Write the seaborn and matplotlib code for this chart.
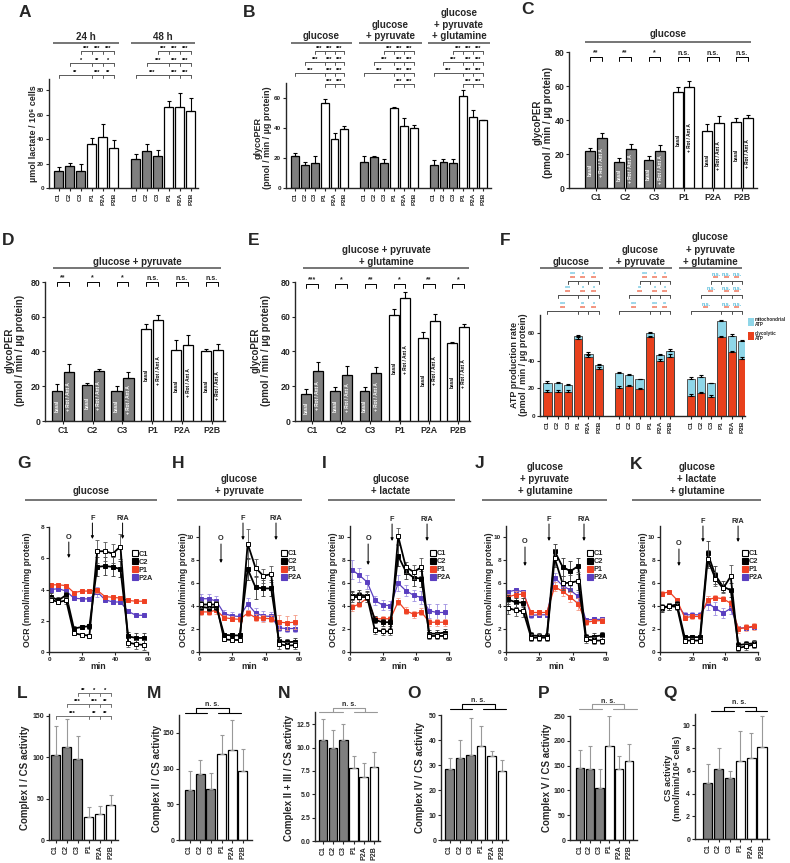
import matplotlib
matplotlib.use('Agg')
import matplotlib.pyplot as plt
import pandas as pd
import seaborn as sns
from matplotlib.transforms import Affine2D, blended_transform_factory
from matplotlib.lines import Line2D
from matplotlib.patches import Rectangle

# ---------------------------------------------------------------- data
cells = ['C1', 'C2', 'C3', 'P1', 'P2A', 'P2B']

# A  lactate
lactate_times = ['24 h', '48 h']
lactate_24h = [14.0, 17.8, 13.6, 36.0, 42.0, 33.0]
lactate_24h_sd = [3.5, 2.5, 5.8, 5.0, 10.5, 6.5]
lactate_48h = [23.5, 30.0, 26.5, 66.0, 66.5, 62.8]
lactate_48h_sd = [4.0, 5.7, 4.5, 4.7, 11.0, 10.5]
A_sig_24h = [['***', '***', '***'], ['*', '**', '*'], ['**', '***', '**']]
A_sig_48h = [['***', '***', '***'], ['***', '***', '***'], ['***', '***', '***']]

# B  glycoPER in three media
media = ['glucose', 'glucose\n+ pyruvate', 'glucose\n+ pyruvate\n+ glutamine']
per_glc = [21.5, 15.5, 16.5, 56.5, 32.5, 39.0]
per_glc_sd = [2.0, 2.0, 5.0, 3.0, 4.0, 2.5]
per_pyr = [17.5, 20.5, 16.5, 53.0, 41.0, 40.0]
per_pyr_sd = [4.0, 1.0, 3.0, 0.8, 5.5, 2.0]
per_gln = [15.5, 17.5, 16.5, 61.5, 47.5, 45.0]
per_gln_sd = [3.0, 2.0, 3.0, 3.5, 4.5, 0.5]
B_sig = [['***', '***', '***'], ['***', '***', '***'], ['***', '***', '***'], ['***', '***']]

# C, D, E  basal vs + Rot/Ant A
treatments = ['basal', '+ Rot / Ant A']
C_basal = [21.5, 15.5, 16.5, 56.5, 33.5, 39.0]
C_basal_sd = [2.0, 2.0, 2.2, 3.0, 4.0, 2.2]
C_rot = [29.5, 23.0, 22.0, 59.5, 38.5, 41.0]
C_rot_sd = [3.0, 2.8, 3.0, 3.3, 4.0, 2.2]
C_sig = ['**', '**', '*', 'n.s.', 'n.s.', 'n.s.']
D_basal = [17.5, 21.0, 17.0, 53.0, 41.0, 40.0]
D_basal_sd = [4.0, 1.0, 3.0, 3.0, 5.5, 1.5]
D_rot = [28.0, 29.0, 25.0, 58.0, 44.0, 41.0]
D_rot_sd = [4.8, 1.0, 3.3, 3.0, 5.5, 3.5]
D_sig = ['**', '*', '*', 'n.s.', 'n.s.', 'n.s.']
E_basal = [15.5, 17.5, 17.0, 61.0, 47.5, 45.0]
E_basal_sd = [3.0, 2.0, 2.5, 3.5, 4.0, 0.5]
E_rot = [29.0, 26.5, 27.5, 71.0, 57.5, 54.0]
E_rot_sd = [5.0, 5.0, 3.5, 3.5, 4.0, 2.0]
E_sig = ['***', '*', '**', '*', '**', '*']

# F  ATP production (glycolytic + mitochondrial)
atp_glyco_glc = [17.0, 17.5, 17.5, 56.0, 43.0, 34.0]
atp_mito_glc = [7.0, 6.5, 5.0, 2.0, 2.0, 2.5]
atp_glyco_pyr = [20.0, 21.5, 19.5, 57.0, 40.0, 43.0]
atp_mito_pyr = [11.0, 8.0, 7.0, 3.0, 4.0, 4.0]
atp_glyco_gln = [14.5, 16.5, 14.0, 57.0, 46.0, 41.0]
atp_mito_gln = [12.5, 12.0, 9.5, 11.5, 12.0, 13.0]
atp_glyco_sd = [1.5, 1.0, 1.0, 1.0, 1.0, 1.5]
atp_total_sd = [1.0, 0.8, 0.5, 0.8, 1.0, 1.2]
F_sig_mito_glc = [['***', '*', '*'], ['***', '*', '*'], ['***', '**', '*']]
F_sig_mito_pyr = [['***', '*', '*'], ['**', '*', '*'], ['***', '***', '**']]
F_sig_mito_gln = [['n.s.', 'n.s.', 'n.s.'], ['n.s.', 'n.s.', 'n.s.'], ['n.s.', 'n.s.', 'n.s.']]
F_sig_glyco = ['***', '***', '***']

# G-K  OCR time courses
ocr_lines = ['C1', 'C2', 'P1', 'P2A']
time_min = [1.0, 5.7, 10.4, 15.1, 19.8, 24.5, 29.2, 33.9, 38.6, 43.3, 48.0, 52.7, 57.4]
G_C1 = [3.35, 3.2, 3.3, 1.2, 1.1, 1.05, 6.45, 6.45, 6.3, 6.75, 0.6, 0.5, 0.45]
G_C2 = [3.55, 3.3, 3.65, 1.5, 1.6, 1.65, 5.45, 5.5, 5.45, 5.3, 1.0, 0.9, 0.9]
G_P1 = [4.3, 4.3, 4.25, 3.8, 3.9, 3.9, 3.95, 3.55, 3.5, 3.45, 3.3, 3.25, 3.25]
G_P2A = [4.0, 4.05, 3.9, 3.45, 3.4, 3.4, 3.85, 3.35, 3.2, 3.2, 2.6, 2.35, 2.35]
G_C1_sd = [0.15, 0.15, 0.2, 0.1, 0.1, 0.1, 0.75, 0.6, 0.6, 0.8, 0.3, 0.3, 0.35]
G_C2_sd = [0.2, 0.2, 0.2, 0.15, 0.15, 0.15, 0.6, 0.6, 0.6, 0.5, 0.3, 0.3, 0.3]
G_P1_sd = [0.1, 0.1, 0.1, 0.1, 0.1, 0.1, 0.15, 0.1, 0.1, 0.1, 0.1, 0.1, 0.1]
G_P2A_sd = [0.15, 0.15, 0.15, 0.15, 0.15, 0.15, 0.3, 0.15, 0.15, 0.15, 0.1, 0.1, 0.1]
H_C1 = [4.15, 4.15, 4.15, 1.1, 1.05, 1.05, 9.45, 7.35, 6.65, 6.8, 0.7, 0.55, 0.6]
H_C2 = [3.95, 3.85, 3.95, 1.5, 1.45, 1.45, 7.25, 5.65, 5.55, 5.55, 0.95, 0.85, 0.9]
H_P1 = [3.5, 3.5, 3.65, 3.0, 2.9, 2.85, 3.4, 3.0, 2.95, 2.9, 2.6, 2.55, 2.6]
H_P2A = [4.65, 4.65, 4.45, 3.35, 3.15, 3.1, 4.2, 3.4, 3.15, 3.1, 2.1, 2.05, 2.05]
H_C1_sd = [0.3, 0.3, 0.3, 0.15, 0.15, 0.15, 1.3, 0.8, 0.6, 0.7, 0.4, 0.3, 0.3]
H_C2_sd = [0.3, 0.3, 0.3, 0.2, 0.2, 0.2, 1.0, 1.0, 0.7, 0.7, 0.4, 0.3, 0.3]
H_P1_sd = [0.3, 0.3, 0.3, 0.2, 0.2, 0.2, 0.3, 0.3, 0.3, 0.3, 0.6, 0.6, 0.6]
H_P2A_sd = [0.4, 0.4, 0.4, 0.3, 0.3, 0.3, 0.5, 0.4, 0.4, 0.4, 0.3, 0.3, 0.3]
I_C1 = [4.8, 4.8, 4.8, 1.9, 1.8, 1.8, 10.1, 7.4, 7.0, 7.4, 1.4, 1.4, 1.4]
I_C2 = [4.9, 5.0, 4.9, 2.8, 2.6, 2.6, 8.4, 7.0, 6.5, 6.4, 1.6, 1.6, 1.7]
I_P1 = [3.9, 4.2, 4.7, 2.9, 2.9, 2.9, 4.4, 3.6, 3.3, 3.5, 2.6, 2.6, 2.6]
I_P2A = [7.2, 6.7, 6.1, 4.5, 4.1, 4.05, 6.0, 5.35, 4.95, 4.75, 3.6, 3.45, 3.45]
I_C1_sd = [0.4, 0.4, 0.4, 0.3, 0.3, 0.3, 0.7, 0.5, 0.6, 0.8, 0.3, 0.3, 0.3]
I_C2_sd = [0.4, 0.4, 0.4, 0.3, 0.3, 0.3, 0.9, 0.6, 0.7, 0.7, 0.3, 0.3, 0.3]
I_P1_sd = [0.3, 0.3, 0.3, 0.2, 0.2, 0.2, 0.3, 0.3, 0.3, 0.3, 0.3, 0.3, 0.3]
I_P2A_sd = [0.8, 0.6, 0.6, 0.4, 0.4, 0.4, 0.7, 0.5, 0.5, 0.6, 0.6, 0.7, 0.7]
J_C1 = [3.85, 3.65, 3.55, 1.25, 1.25, 1.25, 8.2, 6.0, 6.05, 6.2, 1.1, 1.0, 1.0]
J_C2 = [4.6, 4.35, 4.3, 1.45, 1.4, 1.4, 8.8, 7.45, 7.05, 7.5, 1.3, 1.35, 1.45]
J_P1 = [4.8, 5.0, 5.05, 3.45, 3.45, 3.45, 5.7, 5.3, 4.8, 4.2, 2.6, 2.7, 2.75]
J_P2A = [5.25, 5.4, 5.25, 3.2, 3.25, 3.25, 6.5, 5.8, 5.4, 4.85, 2.8, 2.85, 2.85]
J_C1_sd = [0.5, 0.5, 0.5, 0.3, 0.3, 0.3, 0.8, 0.6, 0.7, 0.8, 0.3, 0.3, 0.3]
J_C2_sd = [0.4, 0.4, 0.4, 0.3, 0.3, 0.3, 0.6, 0.8, 0.9, 0.7, 0.3, 0.3, 0.3]
J_P1_sd = [0.3, 0.3, 0.3, 0.2, 0.2, 0.2, 0.4, 0.4, 0.4, 0.5, 0.2, 0.2, 0.2]
J_P2A_sd = [0.2, 0.2, 0.2, 0.2, 0.2, 0.2, 0.4, 0.4, 0.4, 0.4, 0.2, 0.2, 0.2]
K_C1 = [3.9, 4.0, 3.95, 1.0, 1.0, 1.0, 8.1, 6.4, 5.55, 6.6, 0.35, 0.5, 0.65]
K_C2 = [3.8, 4.0, 4.15, 1.3, 1.3, 1.3, 8.6, 6.7, 5.7, 5.4, 0.6, 0.7, 0.75]
K_P1 = [5.1, 5.25, 4.55, 3.0, 3.1, 3.1, 4.55, 4.75, 4.65, 4.25, 2.0, 2.15, 2.25]
K_P2A = [3.9, 4.0, 4.15, 3.25, 3.25, 3.25, 4.3, 3.8, 3.4, 3.8, 2.1, 2.1, 2.2]
K_C1_sd = [0.3, 0.3, 0.3, 0.2, 0.2, 0.2, 0.8, 0.6, 0.4, 1.0, 0.3, 0.3, 0.3]
K_C2_sd = [0.3, 0.3, 0.3, 0.2, 0.2, 0.2, 1.1, 0.8, 0.5, 0.6, 0.3, 0.3, 0.3]
K_P1_sd = [0.2, 0.2, 0.2, 0.2, 0.2, 0.2, 0.3, 0.2, 0.2, 0.3, 0.3, 0.3, 0.3]
K_P2A_sd = [0.2, 0.2, 0.2, 0.2, 0.2, 0.2, 0.6, 0.6, 0.4, 0.5, 0.2, 0.2, 0.2]

# L-Q  respiratory chain enzyme activities
L_complexI = [102.0, 112.0, 98.0, 28.0, 31.0, 42.0]
L_complexI_sd = [36.0, 34.0, 28.0, 12.0, 10.0, 12.0]
L_sig = [['**', '*', '*'], ['***', '***', '**'], ['***', '**', '**']]
M_complexII = [70.0, 93.0, 71.0, 120.0, 126.0, 96.0]
M_complexII_sd = [27.0, 19.0, 23.0, 27.0, 42.0, 32.0]
N_complexII_III = [10.8, 10.0, 10.8, 7.8, 6.8, 7.9]
N_complexII_III_sd = [2.2, 1.9, 1.7, 1.3, 1.5, 1.6]
O_complexIV = [28.3, 33.0, 34.0, 37.8, 33.6, 27.6]
O_complexIV_sd = [4.5, 7.0, 15.0, 7.7, 2.0, 4.3]
P_complexV = [145.0, 143.0, 104.0, 190.0, 143.0, 160.0]
P_complexV_sd = [36.0, 46.0, 40.0, 60.0, 26.0, 34.0]
Q_cs = [4.9, 6.2, 5.4, 6.9, 7.1, 8.1]
Q_cs_sd = [1.7, 1.8, 0.6, 2.6, 2.2, 2.7]

# ---------------------------------------------------------------- style
sns.set_style('ticks')
plt.rcParams['font.family'] = ['Liberation Sans', 'DejaVu Sans']
plt.rcParams['font.weight'] = 'bold'
plt.rcParams['axes.labelweight'] = 'bold'

W, H = 790, 863
fig = plt.figure(figsize=(W / 100, H / 100), dpi=100)
PX = Affine2D().scale(1 / W, -1 / H).translate(0, 1) + fig.transFigure

GREY = '#7f7f7f'
RED = '#ef4123'
PURPLE = '#5a3fc0'
CYAN = '#8fd6e8'
GLYRED = '#e8401c'
HDR = '#6a6a6a'


def add_ax(x0, top, x1, bottom):
    return fig.add_axes([x0 / W, 1 - bottom / H, (x1 - x0) / W, (bottom - top) / H])


def tr(ax):
    return blended_transform_factory(ax.transData, PX)


def ftext(x, y, s, **kw):
    kw.setdefault('ha', 'center')
    kw.setdefault('va', 'center')
    kw.setdefault('fontweight', 'bold')
    fig.text(x / W, 1 - y / H, s, **kw)


def fline(x0, x1, y, color=HDR, lw=1.3):
    fig.add_artist(Line2D([x0 / W, x1 / W], [1 - y / H] * 2, transform=fig.transFigure,
                          color=color, lw=lw, solid_capstyle='butt'))


def header(cx, ys, text, x0, x1, yl, fs=7):
    for y, s in zip(ys, text.split('\n')):
        ftext(cx, y, s, fontsize=fs)
    fline(x0, x1, yl)


def letter(x, y, s):
    ftext(x, y - 2, s, fontsize=12.5, ha='left', va='top')


def style(ax, fs):
    sns.despine(ax=ax)
    ax.tick_params(axis='both', length=2.3, width=0.8, pad=1.2, labelsize=fs)
    for s in ('left', 'bottom'):
        ax.spines[s].set_linewidth(1.0)
    ax.set_xlabel('')
    ax.set_ylabel('')


def cellcolor(key):
    return GREY if key.split()[-1].startswith('C') else 'white'


def bars(ax, keys, vals, sds, order, face, edge='black', lw=0.9, ecolor='black',
         width=0.8, cap=1.5):
    n0 = len(ax.patches)
    df = pd.DataFrame({'k': keys, 'v': vals})
    sns.barplot(data=df, x='k', y='v', order=order, color='white', width=width,
                errorbar=None, edgecolor=edge, linewidth=lw, saturation=1, ax=ax)
    look = {k: (v, s) for k, v, s in zip(keys, vals, sds)}
    for p in ax.patches[n0:]:
        c = p.get_x() + p.get_width() / 2
        k = order[int(round(c))]
        p.set_facecolor(face(k) if callable(face) else face)
        v, s = look[k]
        ax.errorbar(c, v, yerr=[[0], [s]], fmt='none', ecolor=ecolor, elinewidth=0.8,
                    capsize=cap, capthick=0.8)


def sig_row(ax, nodes, labels, y, color='0.35', fs=4, tick=3, lcolor='black',
            labels2=None, lcolor2=None):
    t = tr(ax)
    ax.plot([nodes[0], nodes[-1]], [y, y], transform=t, color=color, lw=0.7, clip_on=False)
    for n in nodes:
        ax.plot([n, n], [y, y + tick], transform=t, color=color, lw=0.7, clip_on=False)
    for i, (a, b) in enumerate(zip(nodes[:-1], nodes[1:])):
        ax.text((a + b) / 2, y - 0.3, labels[i], transform=t, ha='center', va='bottom',
                fontsize=fs, color=lcolor, clip_on=False)
        if labels2:
            ax.text((a + b) / 2, y - 4.3, labels2[i], transform=t, ha='center', va='bottom',
                    fontsize=fs, color=lcolor2, clip_on=False)


def ylab(x, y, s, fs=6.5):
    ftext(x, y, s, fontsize=fs, rotation=90, multialignment='center', linespacing=1.05)


def cat_ticks(ax, order, fs, rot=90):
    pos = [i for i, k in enumerate(order) if not k.startswith('gap')]
    ax.set_xticks(pos)
    ax.set_xticklabels([order[i].split()[-1] for i in pos], rotation=rot, fontsize=fs)


# ---------------------------------------------------------------- A
axA = add_ax(49, 79, 198, 188)
A_keys = [f'{lactate_times[0]} {c}' for c in cells] + [f'{lactate_times[1]} {c}' for c in cells]
A_order = A_keys[:6] + ['gap1'] + A_keys[6:]
bars(axA, A_keys, lactate_24h + lactate_48h, lactate_24h_sd + lactate_48h_sd, A_order,
     cellcolor, cap=1.6)
style(axA, 4.6)
cat_ticks(axA, A_order, 4.6)
axA.set_xlim(-0.88, 12.66)
axA.set_ylim(0, 89)
axA.set_yticks([0, 20, 40, 60, 80])
for g, sig in zip((0, 7), (A_sig_24h, A_sig_48h)):
    for r, y in enumerate((51, 63, 75)):
        sig_row(axA, [g + 2 - r, g + 3, g + 4, g + 5], sig[r], y)
header(86, [37], lactate_times[0], 53, 119, 43)
header(163, [37], lactate_times[1], 131, 195, 43)
ylab(33, 134, 'µmol lactate / 10⁶ cells')
letter(19, 7, 'A')

# ---------------------------------------------------------------- B
axB = add_ax(286, 83, 491, 188)
B_keys = [f'{m} {c}' for m in ('glc', 'pyr', 'gln') for c in cells]
B_order = B_keys[:6] + ['gap1'] + B_keys[6:12] + ['gap2'] + B_keys[12:]
bars(axB, B_keys, per_glc + per_pyr + per_gln, per_glc_sd + per_pyr_sd + per_gln_sd,
     B_order, cellcolor, cap=1.5)
style(axB, 4.6)
cat_ticks(axB, B_order, 4.6)
axB.set_xlim(-0.9, 19.8)
axB.set_ylim(0, 70)
axB.set_yticks([0, 20, 40, 60])
for g in (0, 7, 14):
    for r, y in enumerate((51, 62, 73)):
        sig_row(axB, [g + 2 - r, g + 3, g + 4, g + 5], B_sig[r], y)
    sig_row(axB, [g + 3, g + 4, g + 5], B_sig[3], 84)
header(321, [36], media[0], 291, 352, 43)
header(390, [25, 36], media[1], 359, 422, 43)
header(459, [13, 24.5, 36], media[2], 428, 490, 43)
ylab(263, 138, 'glycoPER\n(pmol / min / µg protein)')
letter(243, 7, 'B')


# ---------------------------------------------------------------- C, D, E
def paired(ax, basal, basal_sd, rot, rot_sd, sig, y_line, fs_sig=5):
    df = pd.DataFrame({'cell': cells * 2,
                       'treat': [treatments[0]] * 6 + [treatments[1]] * 6,
                       'v': basal + rot})
    sns.barplot(data=df, x='cell', y='v', hue='treat', order=cells, hue_order=treatments,
                palette=['white', 'white'], dodge=True, gap=0.15, width=0.8, errorbar=None,
                edgecolor='black', linewidth=0.9, saturation=1, legend=False, ax=ax)
    centers = {}
    for cont, vals, sds, lab in zip(ax.containers, (basal, rot), (basal_sd, rot_sd), treatments):
        for p in cont:
            c = p.get_x() + p.get_width() / 2
            i = int(round(c))
            v = vals[i]
            col = cellcolor(cells[i])
            p.set_facecolor(col)
            ax.errorbar(c, v, yerr=[[0], [sds[i]]], fmt='none', ecolor='black',
                        elinewidth=0.8, capsize=1.6, capthick=0.8)
            ax.text(c, v / 2, lab, rotation=90, ha='center', va='center', fontsize=3.4,
                    color='white' if col == GREY else 'black')
            centers.setdefault(i, []).append(c)
    t = tr(ax)
    for i, s in enumerate(sig):
        a, b = sorted(centers[i])
        ax.plot([a, a, b, b], [y_line + 4, y_line, y_line, y_line + 4], transform=t,
                color='black', lw=0.7, clip_on=False)
        ax.text((a + b) / 2, y_line - 0.3, s, transform=t, ha='center', va='bottom',
                fontsize=fs_sig, clip_on=False)
    style(ax, 6.3)
    ax.set_ylim(0, 80)
    ax.set_yticks([0, 20, 40, 60, 80])


axC = add_ax(569, 52, 757, 188)
paired(axC, C_basal, C_basal_sd, C_rot, C_rot_sd, C_sig, 57)
axC.set_xlim(-0.92, 5.51)
header(668, [34], media[0], 585, 751, 42)
ylab(543, 122, 'glycoPER\n(pmol / min / µg protein)', fs=7)
letter(521, 4, 'C')

axD = add_ax(45, 282, 225, 421)
paired(axD, D_basal, D_basal_sd, D_rot, D_rot_sd, D_sig, 282)
axD.set_xlim(-0.6, 5.44)
header(137, [262], 'glucose + pyruvate', 53, 221, 268)
ylab(15, 350, 'glycoPER\n(pmol / min / µg protein)', fs=7)
letter(2, 235, 'D')

axE = add_ax(295, 282, 470, 421)
paired(axE, E_basal, E_basal_sd, E_rot, E_rot_sd, E_sig, 284)
axE.set_xlim(-0.58, 5.41)
header(386, [250, 262], 'glucose + pyruvate\n+ glutamine', 303, 469, 268)
ylab(261, 350, 'glycoPER\n(pmol / min / µg protein)', fs=7)
letter(248, 235, 'E')

# ---------------------------------------------------------------- F
axF = add_ax(540, 315, 745, 416)
F_keys = B_keys
F_order = B_order
glyco_all = atp_glyco_glc + atp_glyco_pyr + atp_glyco_gln
mito_all = atp_mito_glc + atp_mito_pyr + atp_mito_gln
total_all = [g + m for g, m in zip(glyco_all, mito_all)]
bars(axF, F_keys, total_all, atp_total_sd * 3, F_order, CYAN, edge='#555555', lw=0.7, cap=1.2)
bars(axF, F_keys, glyco_all, atp_glyco_sd * 3, F_order, GLYRED, edge='#444444', lw=0.7, cap=1.2)
style(axF, 4.6)
cat_ticks(axF, F_order, 4.6)
axF.set_xlim(-0.73, 19.3)
axF.set_ylim(0, 73)
axF.set_yticks([0, 20, 40, 60])
for g, msig in zip((0, 7, 14), (F_sig_mito_glc, F_sig_mito_pyr, F_sig_mito_gln)):
    for r, y in enumerate((281, 295, 311)):
        sig_row(axF, [g + 2 - r, g + 3, g + 4, g + 5], F_sig_glyco, y, color='0.3',
                fs=3.8, lcolor=GLYRED, labels2=msig[r], lcolor2='#4fb8d8')
header(571, [262], media[0], 540, 603, 268)
header(640, [250, 262], media[1], 609, 672, 268)
header(710, [237, 250, 262], media[2], 679, 742, 268)
ylab(519, 365, 'ATP production rate\n(pmol / min / µg protein)')
letter(500, 235, 'F')
fig.add_artist(Rectangle((748 / W, 1 - 326 / H), 6 / W, 8 / H, transform=fig.transFigure,
                         facecolor=CYAN, edgecolor='none'))
fig.add_artist(Rectangle((748 / W, 1 - 340 / H), 6 / W, 8 / H, transform=fig.transFigure,
                         facecolor=GLYRED, edgecolor='none'))
ftext(755, 322, 'mitochondrial\nATP', fontsize=3.3, ha='left', linespacing=1.0)
ftext(755, 336, 'glycolytic\nATP', fontsize=3.3, ha='left', linespacing=1.0)

# ---------------------------------------------------------------- G-K
line_col = {'C1': 'black', 'C2': 'black', 'P1': RED, 'P2A': PURPLE}
face_col = {'C1': 'white', 'C2': 'black', 'P1': RED, 'P2A': PURPLE}
err_col = {'C1': '#555555', 'C2': '#333333', 'P1': '#f59a85', 'P2A': '#9d8fe0'}
lw_col = {'C1': 1.3, 'C2': 1.3, 'P1': 0.9, 'P2A': 0.9}


def ocr_panel(ax, series, sds, ymax, yticks, inj, leg_xy):
    for name in ('P2A', 'P1', 'C2', 'C1'):
        ax.errorbar(time_min, series[name], yerr=sds[name], fmt='none', ecolor=err_col[name],
                    elinewidth=0.6, capsize=1.1, capthick=0.6)
        df = pd.DataFrame({'t': time_min, 'v': series[name]})
        sns.lineplot(data=df, x='t', y='v', ax=ax, color=line_col[name], marker='s',
                     markersize=3.3, markerfacecolor=face_col[name], markeredgecolor=line_col[name],
                     markeredgewidth=0.7, linewidth=lw_col[name], errorbar=None)
    style(ax, 4.6)
    ax.set_xlim(0, 60)
    ax.set_xticks([0, 20, 40, 60])
    ax.set_ylim(0, ymax)
    ax.set_yticks(yticks)
    ax.set_xlabel('min', fontsize=6.3, labelpad=0)
    t = tr(ax)
    for lab, x, ytxt, y0, y1 in inj:
        ax.text(x, ytxt, lab, transform=t, ha='center', va='center', fontsize=5.3, clip_on=False)
        ax.annotate('', xy=(x, y1), xytext=(x, y0), xycoords=t, textcoords=t,
                    arrowprops=dict(arrowstyle='-|>', lw=0.7, color='black', mutation_scale=4,
                                    shrinkA=0, shrinkB=0), annotation_clip=False)
    handles = [Line2D([], [], linestyle='none', marker='s', markersize=5,
                      markerfacecolor=face_col[n], markeredgecolor=line_col[n], markeredgewidth=0.8)
               for n in ocr_lines]
    ax.legend(handles, ocr_lines, loc='upper left', bbox_to_anchor=leg_xy, frameon=False,
              fontsize=5.3, handlelength=0.7, handletextpad=0.15, labelspacing=0.12,
              borderpad=0, borderaxespad=0)


ocr_sets = [
    ('G', (49, 527, 148, 652), 8, [0, 2, 4, 6, 8],
     {'C1': G_C1, 'C2': G_C2, 'P1': G_P1, 'P2A': G_P2A},
     {'C1': G_C1_sd, 'C2': G_C2_sd, 'P1': G_P1_sd, 'P2A': G_P2A_sd},
     [('O', 12.0, 537, 542, 558), ('F', 26.3, 518, 523, 539), ('R/A', 44.6, 518, 523, 539)],
     (0.84, 0.81), 'glucose', 91, 25, 157, 28, (17, 458, 'G')),
    ('H', (199, 526, 299, 652), 11, [0, 2, 4, 6, 8, 10],
     {'C1': H_C1, 'C2': H_C2, 'P1': H_P1, 'P2A': H_P2A},
     {'C1': H_C1_sd, 'C2': H_C2_sd, 'P1': H_P1_sd, 'P2A': H_P2A_sd},
     [('O', 13.2, 538, 544, 563), ('F', 26.4, 518, 523, 540), ('R/A', 46.2, 518, 523, 540)],
     (0.82, 0.81), 'glucose\n+ pyruvate', 239.5, 177, 302, 184, (172, 458, 'H')),
    ('I', (350, 526, 449, 652), 11, [0, 2, 4, 6, 8, 10],
     {'C1': I_C1, 'C2': I_C2, 'P1': I_P1, 'P2A': I_P2A},
     {'C1': I_C1_sd, 'C2': I_C2_sd, 'P1': I_P1_sd, 'P2A': I_P2A_sd},
     [('O', 11.0, 538, 544, 565), ('F', 25.5, 519, 524, 541), ('R/A', 46.7, 519, 524, 541)],
     (0.81, 0.81), 'glucose\n+ lactate', 391, 328, 455, 333, (322, 458, 'I')),
    ('J', (506, 526, 606, 652), 11, [0, 2, 4, 6, 8, 10],
     {'C1': J_C1, 'C2': J_C2, 'P1': J_P1, 'P2A': J_P2A},
     {'C1': J_C1_sd, 'C2': J_C2_sd, 'P1': J_P1_sd, 'P2A': J_P2A_sd},
     [('O', 11.4, 541, 547, 566), ('F', 25.8, 519, 524, 541), ('R/A', 46.8, 519, 524, 541)],
     (0.81, 0.81), 'glucose\n+ pyruvate\n+ glutamine', 545, 482, 607, 490, (475, 458, 'J')),
    ('K', (660, 526, 758, 652), 11, [0, 2, 4, 6, 8, 10],
     {'C1': K_C1, 'C2': K_C2, 'P1': K_P1, 'P2A': K_P2A},
     {'C1': K_C1_sd, 'C2': K_C2_sd, 'P1': K_P1_sd, 'P2A': K_P2A_sd},
     [('O', 11.6, 543, 549, 566), ('F', 26.3, 521, 526, 542), ('R/A', 47.8, 521, 526, 542)],
     (0.84, 0.81), 'glucose\n+ lactate\n+ glutamine', 697, 632, 761, 643, (630, 459, 'K')),
]
for (name, rect, ymax, yt, ser, sds, inj, legxy, title, tcx, lx0, lx1, ylx, let) in ocr_sets:
    ax = add_ax(*rect)
    ocr_panel(ax, ser, sds, ymax, yt, inj, legxy)
    nlines = title.count('\n') + 1
    ys = [491 - 12 * (nlines - 1 - k) for k in range(nlines)]
    header(tcx, ys, title, lx0, lx1, 500)
    ylab(ylx, 590, 'OCR (nmol/min/mg protein)', fs=6.3)
    letter(let[0], let[1], let[2])

# ---------------------------------------------------------------- L-Q
def enzyme_panel(rect, vals, sds, xlim, ylim, yticks, yticklabels, label, lab_x, let, fs=7):
    ax = add_ax(*rect)
    bars(ax, cells, vals, sds, cells, cellcolor, ecolor='0.6', width=0.85, cap=1.5)
    style(ax, 5)
    cat_ticks(ax, cells, 5)
    ax.set_xlim(*xlim)
    ax.set_ylim(*ylim)
    ax.set_yticks(yticks)
    if yticklabels:
        ax.set_yticklabels(yticklabels)
    ylab(lab_x, 778, label, fs=fs)
    letter(let[0], let[1], let[2])
    return ax


def ns_bracket(ax, left, right, v1, v2, y_low, y_high, y_text, color):
    t = tr(ax)
    kw = dict(transform=t, color=color, lw=0.8, clip_on=False)
    ax.plot(left, [y_low] * 2, **kw)
    ax.plot(right, [y_low] * 2, **kw)
    ax.plot([v1, v1, v2, v2], [y_low, y_high, y_high, y_low], **kw)
    ax.text((v1 + v2) / 2, y_text, 'n. s.', transform=t, ha='center', va='center',
            fontsize=5, clip_on=False)


axL = enzyme_panel((49, 714, 118, 840), L_complexI, L_complexI_sd, (-0.6, 5.68), (0, 152),
                   [0, 50, 100, 150], None, 'Complex I / CS activity', 25, (17, 688, 'L'))
for r, y in enumerate((693, 704, 716)):
    sig_row(axL, [2 - r, 3, 4, 5], L_sig[r], y, color='0.45', fs=4.2)

axM = enzyme_panel((179, 715, 252, 840), M_complexII, M_complexII_sd, (-1.0, 5.85), (0, 175),
                   [0, 50, 100, 150], None, 'Complex II / CS activity', 157, (147, 688, 'M'))
ns_bracket(axM, [-0.45, 1.6], [2.7, 4.8], 0.6, 3.7, 713, 708, 704, 'black')

axN = enzyme_panel((315, 712, 380, 841), N_complexII_III, N_complexII_III_sd, (-0.78, 5.6),
                   (0, 13.8), [0, 2.5, 5, 7.5, 10, 12.5],
                   ['0.0', '2.5', '5.0', '7.5', '10.0', '12.5'],
                   'Complex II + III / CS activity', 289, (278, 688, 'N'))
ns_bracket(axN, [-0.4, 2.0], [3.0, 5.3], 1.0, 4.1, 712, 708, 704, '0.6')

axO = enzyme_panel((441, 715, 508, 840), O_complexIV, O_complexIV_sd, (-0.81, 5.57), (0, 50),
                   [0, 10, 20, 30, 40, 50], None, 'Complex IV / CS activity', 420,
                   (407, 688, 'O'))
ns_bracket(axO, [0.0, 2.1], [3.2, 5.4], 1.2, 4.3, 709, 704, 700, 'black')

axP = enzyme_panel((570, 716, 637, 840), P_complexV, P_complexV_sd, (-1.0, 5.8), (0, 250),
                   [0, 50, 100, 150, 200, 250], None, 'Complex V / CS activity', 547,
                   (538, 688, 'P'))
ns_bracket(axP, [-0.1, 2.25], [3.4, 5.8], 1.2, 4.5, 709, 704, 701, '0.6')

axQ = enzyme_panel((695, 714, 769, 839), Q_cs, Q_cs_sd, (-1.18, 5.64), (0, 11),
                   [0, 2, 4, 6, 8, 10], None, 'CS activity\n(nmol/min/10⁶ cells)', 673,
                   (663, 688, 'Q'), fs=6.5)
ns_bracket(axQ, [0.3, 2.4], [3.4, 5.5], 1.45, 4.4, 711, 707, 702, 'black')

fig.savefig('out.png', dpi=100)
